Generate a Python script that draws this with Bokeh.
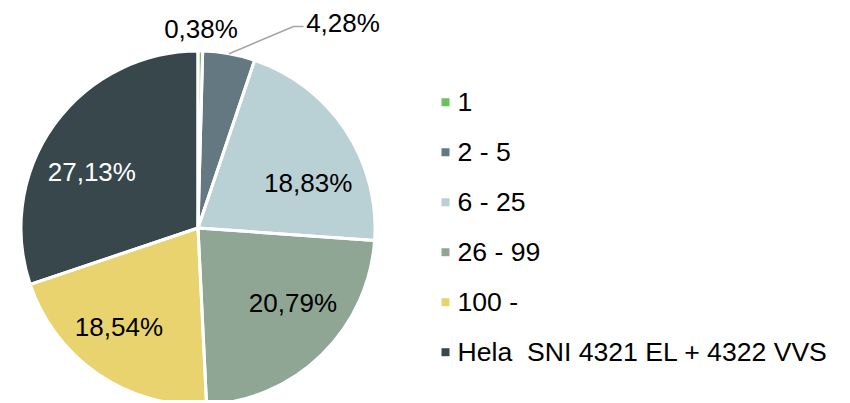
import math
from bokeh.plotting import figure
from bokeh.models import Range1d, ColumnDataSource
from bokeh.embed import file_html
from bokeh.resources import INLINE
from bokeh.core.properties import value

# ---- data ----
categories = ["1", "2 - 5", "6 - 25", "26 - 99", "100 -", "Hela\u00a0 SNI 4321 EL + 4322 VVS"]
shares = [0.38, 4.28, 18.83, 20.79, 18.54, 27.13]
colors = ["#6cbf5f", "#637880", "#b9d0d5", "#8fa694", "#e8d36f", "#37474c"]
label_colors = ["#000000", "#000000", "#000000", "#000000", "#000000", "#ffffff"]

FONT = value("Liberation Sans")
FS = "26px"
LEG_FS = "26.6px"

W, H = 846, 400
p = figure(width=W, height=H, x_range=Range1d(0, W), y_range=Range1d(403 - H, 403),
           min_border=0, toolbar_location=None, output_backend="svg",
           x_axis_location=None, y_axis_location=None)
p.grid.visible = False
p.outline_line_color = None
p.background_fill_color = "white"
p.border_fill_color = "white"


def py(page_y):
    return 403 - page_y


cx, cy, R = 197.5, py(227.5), 177.0

total = sum(shares)
starts, ends, mids = [], [], []
c = 0.0
for v in shares:
    starts.append(c / total)
    c += v
    ends.append(c / total)
    mids.append((starts[-1] + ends[-1]) / 2)


def ang(frac):
    return math.pi / 2 - 2 * math.pi * frac


src = ColumnDataSource(dict(
    cat=categories,
    start=[ang(e) for e in ends],
    end=[ang(s) for s in starts],
    color=colors,
))
p.wedge(x=cx, y=cy, radius=R, start_angle="start", end_angle="end", direction="anticlock",
        fill_color="color", line_color=None, source=src)
p.wedge(x=cx, y=cy, radius=R, start_angle="start", end_angle="end", direction="anticlock",
        fill_color=None, line_color="white", line_width=3, source=src)

labels = [f"{v:.2f}".replace(".", ",") + "%" for v in shares]

# inside labels (index 2..5): angle shift (deg) and distance from centre (px)
inside = {2: (11.5, 119.0), 3: (-7.3, 121.0), 4: (4.3, 126.7), 5: (-7.9, 120.0)}
lx, ly, lt, lc = [], [], [], []
for i, (sh, dist) in inside.items():
    th = math.radians(mids[i] * 360 + sh)
    lx.append(cx + dist * math.sin(th))
    ly.append(cy + dist * math.cos(th))
    lt.append(labels[i])
    lc.append(label_colors[i])

# outside labels
lx += [cx + 3.0, cx + 145.0]
ly += [cy + 199.5, cy + 205.5]
lt += [labels[0], labels[1]]
lc += [label_colors[0], label_colors[1]]

p.text(x=lx, y=ly, text=lt, text_color=lc, text_align="center", text_baseline="middle",
       text_font=FONT, text_font_size=FS)

# leader line for the 2 - 5 label
th1 = 2 * math.pi * mids[1]
p.line(x=[cx + R * math.sin(th1), cx + 95.5, cx + 105.5],
       y=[cy + R * math.cos(th1), cy + 201.5, cy + 201.5],
       line_color="#a6a6a6", line_width=1.6)

# legend
leg_y = [py(101.7 + 50.0 * i) for i in range(len(categories))]
p.scatter(x=[445] * len(categories), y=leg_y, marker="square", size=8,
          fill_color=colors, line_color=None)
p.text(x=[457] * len(categories), y=leg_y, text=categories, text_color="#000000",
       text_align="left", text_baseline="middle", text_font=FONT, text_font_size=LEG_FS)

open("out.html", "w").write(file_html(p, INLINE))
